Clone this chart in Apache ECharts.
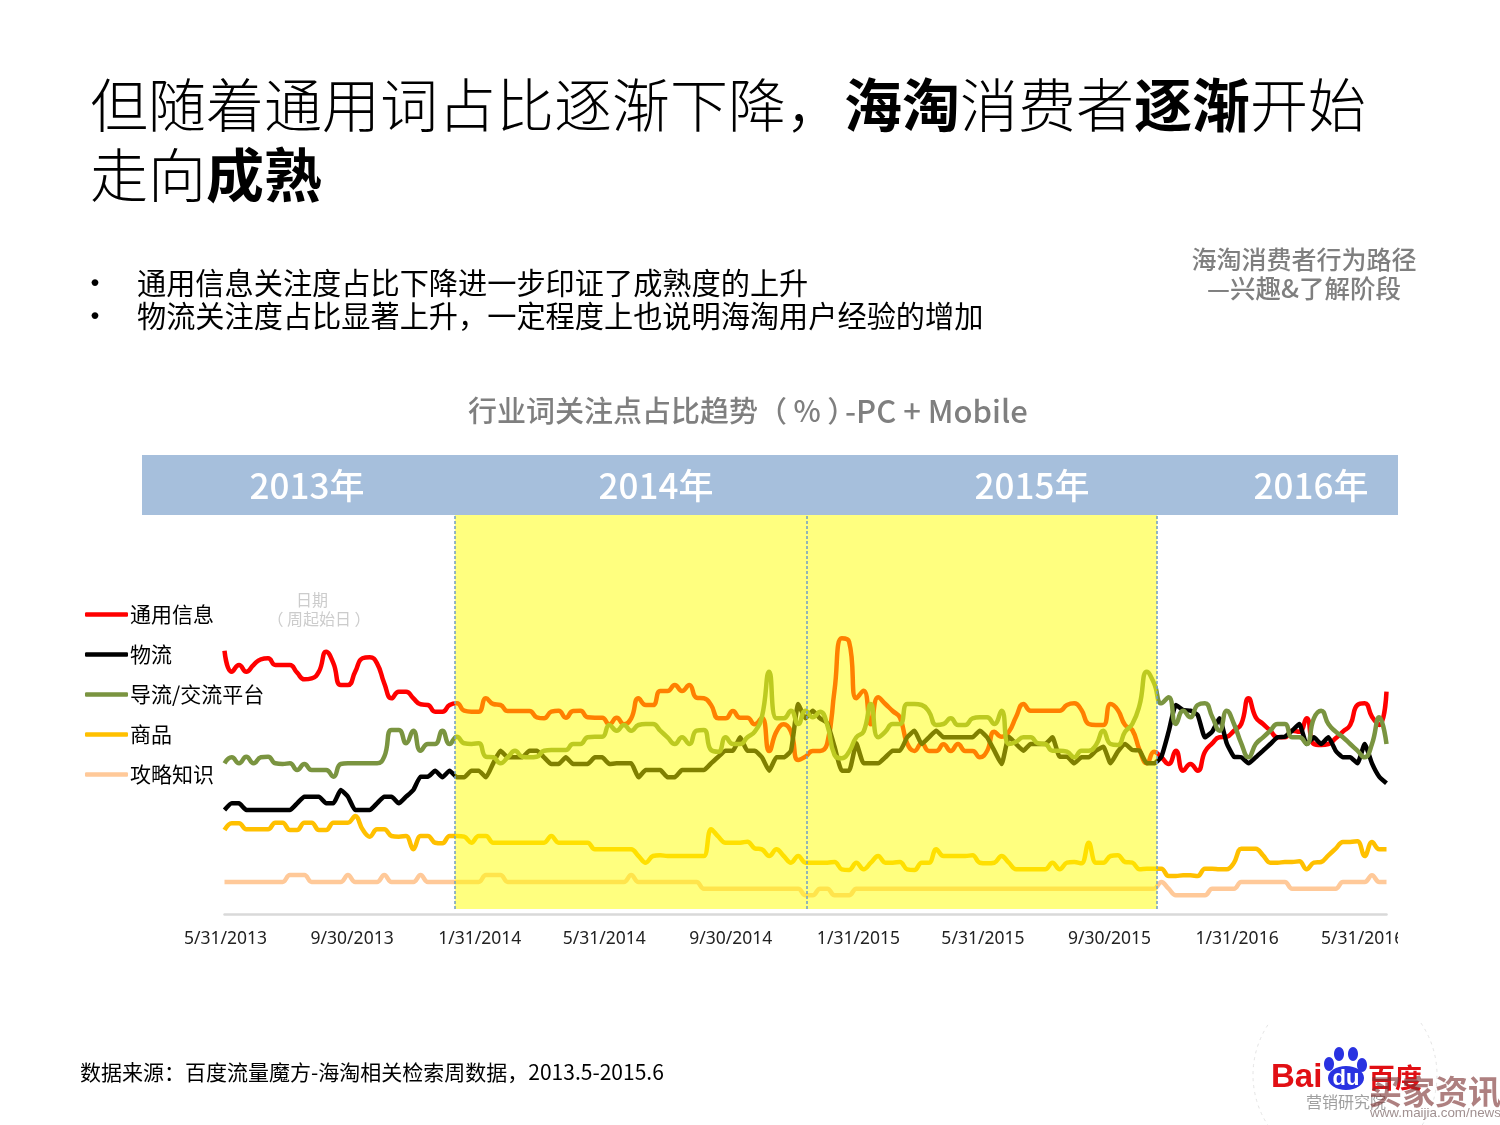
<!DOCTYPE html>
<html>

<head>
    <meta charset="utf-8">
    <title>海淘消费者行为路径</title>
    <script src="https://cdn.jsdelivr.net/npm/echarts@6/dist/echarts.min.js"></script>
    <style>
        html, body { margin: 0; padding: 0; background: #fff; }
        #chart { width: 1500px; height: 1125px; }
    </style>
</head>

<body>
    <div id="chart"></div>
    <script>
        var seriesNames = ['通用信息', '物流', '导流/交流平台', '商品', '攻略知识'];
        var tickDates = ['2013-05-31', '2013-09-30', '2014-01-31', '2014-05-31', '2014-09-30', '2015-01-31', '2015-05-31', '2015-09-30', '2016-01-31', '2016-05-31'];
        var yearLabels = ['2013年', '2014年', '2015年', '2016年'];
        var periodDates = ['2014-01-07', '2014-12-12', '2015-11-15'];

        //每周一个点,共161周
        var firstWeek = '2013-05-30';
        var weekCount = 161;

        var generalInfo = [26.33,24.23,24.9,24.23,24.9,25.47,25.57,24.9,24.9,24.9,24.13,23.47,23.57,24.23,26.23,25.07,22.9,22.9,24.23,25.57,25.67,25.07,23.07,21.57,22.23,22.23,21.57,20.97,20.9,20.23,20.23,20.9,21.07,
            20.33,20.23,20.23,21.57,21,20.9,20.3,20.3,20.3,20.3,19.67,19.57,20.23,20.33,19.63,20.3,20.33,19.67,19.63,19.63,
            18.97,19.63,18.97,19.57,21.57,20.9,20.9,22.3,22.3,22.9,22.3,22.9,21.63,21.57,20.9,19.57,19.57,20.3,19.63,19.63,18.97,19.63,16.3,18.23,18.97,18.23,15.4,15.73,16.3,16.3,17.07,22.4,27.57,27.23,21.57,22.33,18.97,21.67,21,20.3,19.63,17.07,16.3,17.07,16.3,16.3,16.97,16.3,17,16.3,16.3,15.67,16.3,18.23,17.73,
            18.23,19.73,21,20.33,20.33,20.33,20.33,20.33,20.9,21.07,20.4,19,18.9,18.9,21,20.4,18.9,18.4,16.4,15.07,16.23,15.67,15,16.33,14.33,15,14.33,16.23,17.07,17.67,17.73,18.33,19,21.57,19.67,19,18.33,17.67,17.67,18.33,18.23,19.57,17,16.9,17,17.57,18.23,18.9,20.9,21.07,19.73,18.9,22.23];

        var logistics = [10.4,11.07,11.07,10.4,10.4,10.4,10.4,10.4,10.4,10.4,11.07,11.73,11.73,11.73,11.07,11.07,12.4,11.73,10.4,10.4,10.4,11.07,11.73,11.73,11.07,11.73,12.4,13.73,13.73,14.33,13.67,14.33,13.67,13.67,14.33,14.33,13.67,15.07,16.33,15.67,15.67,15.67,16.33,16.33,15.67,15,15,15.67,15,15,15,15.67,15.67,15,
            15.07,15.07,15.07,13.67,14.4,14.4,14.4,13.67,13.67,14.4,14.4,14.4,14.4,15.07,15.73,16.33,16.33,17.67,16.33,16.33,15.67,14.33,15.67,15.67,16.33,21,19.57,20.33,19.57,19.07,16.73,14.33,14.33,17.07,15.07,15.07,15.07,15.67,16.33,16.33,17.67,18.33,17,17.67,18.33,17.67,17.67,17.67,17.67,17.67,18.33,17.67,16.33,15,
            17.73,17,16.33,17,17,17,17.67,15.73,15.73,15.07,15.67,15.67,16.33,16.73,15.07,16.23,17,16.4,16.33,15.07,15.07,15.73,18.23,20.9,20.4,20.33,19.9,17.67,18.23,19.57,17.07,15.73,15.67,15.07,15.67,16.33,17,17.67,17.73,18.33,19,17,17.67,17,17.67,16.33,15.67,15.67,15.07,17,15.07,13.73,13.07];

        var platform = [15.07,15.67,15.07,15.73,15.07,15.67,15.73,15.07,15,15.07,14.4,15,14.4,14.4,14.4,13.73,15,15.07,15.07,15.07,15.07,15.07,15.73,18.4,18.4,17.07,18.33,16.33,17,17,18.33,17,17.73,17.07,17,17.07,15.73,15.67,15.07,15.67,16.33,15.73,15.67,15.73,16.33,16.4,16.4,16.4,17,17,17.67,17.73,17.73,
            18.9,18.33,18.9,18.33,18.9,19,19,18.33,17.67,17,17.67,17,18.33,18.4,16.4,16.23,17.67,17,17,17.67,18.23,19.73,24.23,19.57,19.57,20.33,19,20.33,19.67,20.23,18.9,15.9,15.57,16.23,17.67,18.23,21,17.67,18.23,19,19,21,21,20.9,20.23,18.9,19,19.57,18.9,18.9,19.57,19.67,19.67,19,20.33,
            17,17.23,17.67,17.67,17.07,17,16.33,16.33,16.23,15.67,16.33,16.33,16.9,18.33,17,16.9,18.23,19,20.9,24.23,23.07,21.07,21.67,19,20.33,19.67,20.9,21.07,19.73,18.33,20.33,19,17.07,15.67,17,17.67,18.33,19,19,17.67,17.67,17,19.57,20.33,19,18.23,17.67,17,16.33,15.67,17,19.67,17];

        var goods = [8.4,9.07,9.07,8.47,8.47,8.47,8.47,9.13,9.13,8.4,8.4,9.13,9.13,8.4,8.4,9.13,9.13,9.13,9.8,8.47,7.73,8.47,8.47,7.8,7.73,7.8,6.47,7.8,7.8,7.13,7.07,7.8,7.8,7.73,7.13,7.8,7.8,7.13,7.13,7.13,7.13,7.13,7.13,7.13,7.13,7.8,7.13,7.13,7.13,7.13,7.13,6.47,6.47,6.47,
            6.47,6.47,6.47,5.8,5.13,5.8,5.87,5.8,5.8,5.8,5.8,5.8,5.8,8.47,7.73,7.13,7.13,7.13,7.23,6.57,6.47,5.8,6.47,5.8,5.13,5.8,5.13,5.13,5.13,5.13,5.2,4.47,4.4,5.13,4.47,5.13,5.8,5.13,5.13,5.2,4.47,4.4,5.13,5.13,6.47,5.8,5.8,5.8,5.8,5.87,5.13,5.07,5.13,5.8,
            5.13,4.47,4.47,4.47,4.47,4.47,5.13,4.47,5.13,5.2,5.07,7.13,5.13,5.13,5.8,5.87,5.2,5.13,4.47,4.53,4.53,4.53,3.8,3.8,3.87,3.87,3.8,4.53,4.53,4.47,4.47,5.13,6.53,6.53,6.53,5.87,5.13,5.13,5.2,5.2,5.27,4.47,5.13,5.2,5.87,6.53,7.2,7.2,7.27,5.8,7.2,6.47,6.47];

        var guides = [3.2,3.2,3.2,3.2,3.2,3.2,3.2,3.2,3.2,3.9,3.9,3.9,3.2,3.2,3.2,3.2,3.2,3.9,3.2,3.2,3.2,3.2,3.9,3.2,3.2,3.2,3.2,3.9,3.2,3.2,3.2,3.2,3.2,3.2,3.2,3.2,3.9,3.9,3.9,
            3.2,3.2,3.2,3.2,3.2,3.2,3.2,3.2,3.2,3.2,3.2,3.2,3.2,3.2,3.2,3.2,3.2,3.9,3.2,3.2,3.2,3.2,3.2,3.2,3.2,3.2,3.2,
            2.53,2.53,2.53,2.53,2.53,2.53,2.53,2.53,2.53,2.53,2.53,2.53,2.53,2.53,1.87,1.87,2.53,2.53,1.87,1.87,1.87,
            2.53,2.53,2.53,2.53,2.53,2.53,2.53,2.53,2.53,2.53,2.53,2.53,2.53,2.53,2.53,2.53,2.53,2.53,2.53,2.53,2.53,2.53,2.53,2.53,2.53,2.53,2.53,2.53,2.53,2.53,2.53,2.53,2.53,2.53,2.53,2.53,2.53,2.53,2.53,2.53,2.53,2.53,
            3.2,2.53,1.87,1.87,1.87,1.87,1.87,2.53,2.53,2.53,2.53,3.2,3.2,3.2,3.2,3.2,3.2,3.2,2.53,2.53,2.53,2.53,2.53,2.53,2.53,3.2,3.2,3.2,3.2,3.87,3.2,3.2];

        function toTime(s) {
            return new Date(s + 'T00:00:00').getTime();
        }

        var weekDates = [];
        var d = new Date(firstWeek + 'T00:00:00');
        for (var i = 0; i < weekCount; i++) {
            weekDates.push(d.getTime());
            d = new Date(d.getFullYear(), d.getMonth(), d.getDate() + 7);
        }
        function pairs(values) {
            return values.map(function (v, i) { return [weekDates[i], v]; });
        }

        var cjk = '"Noto Sans CJK SC", "Noto Sans", sans-serif';

        function text(x, y, str, size, color, align, extra) {
            var style = { x: x, y: y, text: str, fontSize: size, fontFamily: cjk, fill: color, align: align || 'left', verticalAlign: 'middle' };
            for (var k in (extra || {})) { style[k] = extra[k]; }
            return { type: 'text', z: 50, silent: true, style: style };
        }
        function paw(cx, cy, rx, ry) {
            return { type: 'ellipse', z: 50, silent: true, shape: { cx: cx, cy: cy, rx: rx, ry: ry }, style: { fill: '#2932e1' } };
        }
        function logoArc(start, end) {
            return { type: 'arc', z: 49, silent: true, shape: { cx: 1345, cy: 1075, r: 92, startAngle: start, endAngle: end }, style: { fill: 'none', stroke: '#e4e4e4', lineWidth: 1, lineDash: [3, 4] } };
        }

        var chart = echarts.init(document.getElementById('chart'));
        chart.setOption({
            animation: false,
            backgroundColor: '#fff',
            title: {
                left: 85,
                top: 65,
                text: '{n|但随着通用词占比逐渐下降，}{b|海淘}{n|消费者}{b|逐渐}{n|开始}\n{n|走向}{b|成熟}',
                textStyle: {
                    rich: {
                        n: { fontSize: 58, lineHeight: 70, fontFamily: cjk, color: '#000', fontWeight: 300 },
                        b: { fontSize: 58, lineHeight: 70, fontFamily: cjk, color: '#000', fontWeight: 'bold' }
                    }
                }
            },
            legend: {
                left: 80,
                top: 595,
                orient: 'vertical',
                data: seriesNames,
                icon: 'roundRect',
                itemWidth: 43,
                itemHeight: 4.5,
                itemGap: 11,
                selectedMode: false,
                textStyle: { fontSize: 21, fontFamily: cjk, color: '#000', lineHeight: 29, padding: [0, 0, 0, -3] }
            },
            grid: { left: 224.5, top: 515, width: 1162, height: 399 },
            xAxis: {
                type: 'value',
                min: weekDates[0],
                max: weekDates[weekCount - 1],
                axisLine: { lineStyle: { color: '#d9d9d9', width: 2.5 } },
                axisTick: { show: false },
                splitLine: { show: false },
                axisLabel: {
                    customValues: tickDates.map(toTime),
                    color: '#222',
                    fontSize: 17.5,
                    fontFamily: '"Noto Sans", sans-serif',
                    margin: 16,
                    formatter: function (value) {
                        var t = new Date(value);
                        return (t.getMonth() + 1) + '/' + t.getDate() + '/' + t.getFullYear();
                    }
                }
            },
            yAxis: { type: 'value', min: 0, max: 39.9, show: false, splitLine: { show: false } },
            series: [
                {
                    name: seriesNames[0], type: 'line', data: pairs(generalInfo), symbol: 'none', smooth: 0.5,
                    lineStyle: { color: '#ff0000', width: 4.5 }, itemStyle: { color: '#ff0000' },
                    //黄色半透明区域盖在线条上
                    markArea: {
                        z: 10,
                        silent: true,
                        itemStyle: { color: 'rgba(255,255,0,0.5)' },
                        data: [[{ xAxis: toTime(periodDates[0]), yAxis: 0.5 }, { xAxis: toTime(periodDates[2]), yAxis: 39.9 }]]
                    },
                    markLine: {
                        z: 11,
                        silent: true,
                        symbol: 'none',
                        label: { show: false },
                        lineStyle: { color: '#6f9fc8', type: [3, 2], width: 1.5 },
                        data: periodDates.map(function (p) {
                            return [{ xAxis: toTime(p), yAxis: 0.5 }, { xAxis: toTime(p), yAxis: 39.9 }];
                        })
                    }
                },
                { name: seriesNames[1], type: 'line', data: pairs(logistics), symbol: 'none', smooth: 0.15, lineStyle: { color: '#000', width: 4.5 }, itemStyle: { color: '#000' } },
                { name: seriesNames[2], type: 'line', data: pairs(platform), symbol: 'none', smooth: 0.5, lineStyle: { color: '#7a9440', width: 4.5 }, itemStyle: { color: '#7a9440' } },
                { name: seriesNames[3], type: 'line', data: pairs(goods), symbol: 'none', smooth: 0.4, lineStyle: { color: '#ffc000', width: 4.5 }, itemStyle: { color: '#ffc000' } },
                { name: seriesNames[4], type: 'line', data: pairs(guides), symbol: 'none', smooth: 0.4, lineStyle: { color: '#ffc999', width: 4.5 }, itemStyle: { color: '#ffc999' } }
            ],
            graphic: [
                text(95, 283, '•', 32, '#000', 'center'),
                text(95, 316, '•', 32, '#000', 'center'),
                text(137, 283, '通用信息关注度占比下降进一步印证了成熟度的上升', 29.2, '#000'),
                text(137, 316, '物流关注度占比显著上升，一定程度上也说明海淘用户经验的增加', 29.2, '#000'),
                text(1304, 259, '海淘消费者行为路径', 25, '#7f7f7f', 'center', { fontWeight: 500 }),
                text(1304, 288, '—兴趣&了解阶段', 25.5, '#7f7f7f', 'center', { fontWeight: 500 }),
                text(468, 411, '行业词关注点占比趋势（ % ）', 29, '#7f7f7f', 'left', { fontWeight: 500 }),
                text(845, 411, '-PC + Mobile', 31, '#7f7f7f', 'left', { fontWeight: 500 }),
                { type: 'rect', z: -1, silent: true, shape: { x: 142, y: 455, width: 1256, height: 60 }, style: { fill: '#a6bfdc' } },
                text(307, 486, yearLabels[0], 35, '#fff', 'center', { fontWeight: 500 }),
                text(656, 486, yearLabels[1], 35, '#fff', 'center', { fontWeight: 500 }),
                text(1032, 486, yearLabels[2], 35, '#fff', 'center', { fontWeight: 500 }),
                text(1311, 486, yearLabels[3], 35, '#fff', 'center', { fontWeight: 500 }),
                text(312, 600, '日期', 16, '#cccccc', 'center'),
                text(319, 619, '（ 周起始日 ）', 16, '#cccccc', 'center'),
                //裁掉最后一个刻度标签
                { type: 'rect', z: 40, silent: true, shape: { x: 1398, y: 925, width: 60, height: 26 }, style: { fill: '#fff' } },
                text(80, 1072, '数据来源：百度流量魔方-海淘相关检索周数据，2013.5-2015.6', 21, '#000'),
                //logo
                logoArc(-0.6, 0.6),
                logoArc(Math.PI - 0.6, Math.PI + 0.6),
                text(1271, 1078, 'Bai', 33, '#e10f14', 'left', { fontFamily: '"Liberation Sans", sans-serif', fontWeight: 'bold' }),
                paw(1339, 1054, 5, 7),
                paw(1353, 1054, 5, 7),
                paw(1329, 1064, 5, 7),
                paw(1362, 1065, 5, 7),
                paw(1346, 1078, 18, 12),
                text(1346, 1079, 'du', 22, '#fff', 'center', { fontFamily: '"Liberation Sans", sans-serif', fontWeight: 'bold' }),
                text(1368, 1078, '百度', 27, '#e10f14', 'left', { fontWeight: 'bold' }),
                text(1306, 1102, '营销研究院', 16, '#a0a0a0'),
                text(1369, 1091, '买家资讯', 33, 'rgba(125,50,50,0.62)', 'left', { fontWeight: 'bold' }),
                text(1370, 1113, 'www.maijia.com/news', 13.4, '#a09090', 'left', { fontFamily: '"Liberation Sans", sans-serif' })
            ]
        });
    </script>
</body>

</html>
